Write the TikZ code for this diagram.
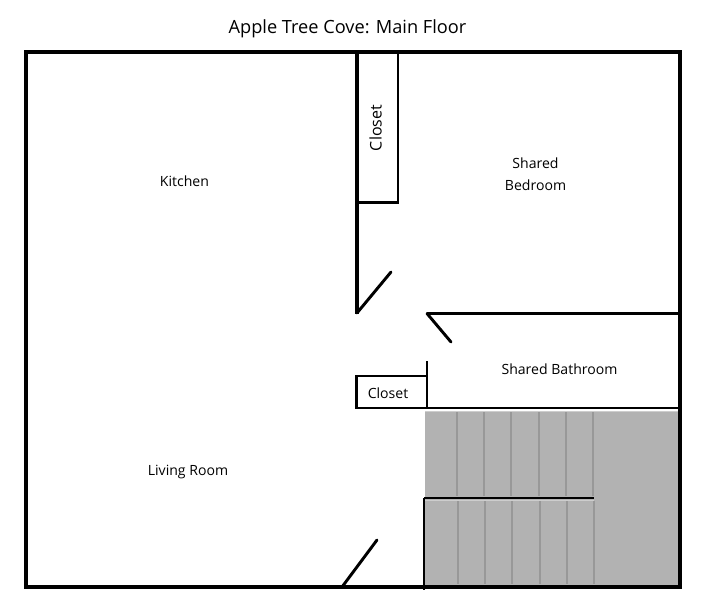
\documentclass[tikz,border=0pt]{standalone}
\usepackage{fontspec}
\setmainfont{Open Sans}
\begin{document}
\begin{tikzpicture}[x=0.75pt,y=-0.75pt,
  wall/.style={draw=black,line width=3pt,line join=miter},
  inner wall/.style={draw=black,line width=2.5pt},
  thin wall/.style={draw=black,line width=2.2pt},
  door/.style={draw=black,line width=2.2pt,line cap=round},
  tread/.style={draw=treadgray,line width=1.4pt},
  label/.style={font=\fontsize{10.55pt}{13pt}\selectfont,align=center,inner sep=0pt,text=black}]
\definecolor{stairgray}{RGB}{178,178,178}
\definecolor{treadgray}{RGB}{152,152,152}
\definecolor{stairedge}{RGB}{205,205,205}
\useasboundingbox (0,0) rectangle (708,614);
\fill[white] (0,0) rectangle (708,614);
% stairs
\fill[stairgray] (425,411) rectangle (680,586);
\draw[stairedge,line width=0.8pt] (425,411.5) -- (680,411.5);
\draw[stairedge,line width=0.8pt] (425,500.5) -- (594,500.5);
\foreach \x in {457,484,511,539,566,593} \draw[tread] (\x,412) -- (\x,496);
\foreach \x in {458,485,512,540,567,594} \draw[tread] (\x,501) -- (\x,584);
\draw[thin wall] (424,498) -- (594,498);
\draw[draw=black,line width=1.5pt] (424,498) -- (424,590);
% outer walls
\draw[wall] (26,52) rectangle (680,587);
\draw[inner wall] (357,52) -- (357,314);
% closets
\draw[thin wall] (357,52) -- (398,52) -- (398,202.5) -- (357,202.5);
\draw[thin wall] (356.5,376) rectangle (427,408);
\draw[thin wall] (427,361) -- (427,408);
\draw[thin wall] (356,408) -- (680,408);
% bathroom wall
\draw[thin wall] (427,313.5) -- (680,313.5);
% doors
\draw[door] (357,313) -- (391,272);
\draw[door] (427,313.5) -- (451,342);
\draw[door] (342,587) -- (377,540);
% labels
\node[label,font=\fontsize{13.65pt}{16pt}\selectfont] (title) at (347.5,29) {Apple Tree Cove: Main Floor};
\node[label] (kitchen) at (184.5,181) {Kitchen};
\node[label] (bedroom) at (535.5,174) {Shared\\[3.6pt]Bedroom};
\node[label,rotate=90,font=\fontsize{12pt}{14pt}\selectfont] (closetA) at (375.5,128) {Closet};
\node[label] (closetB) at (388,393) {Closet};
\node[label] (bath) at (559.5,369) {Shared Bathroom};
\node[label] (living) at (188,472.5) {Living Room};
\end{tikzpicture}
\end{document}
